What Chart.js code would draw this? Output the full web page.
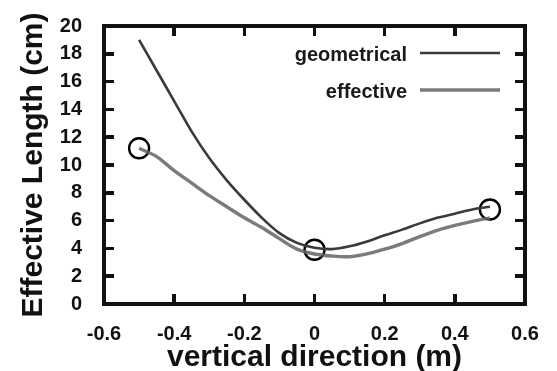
<!DOCTYPE html>
<html>
<head>
<meta charset="utf-8">
<script src="https://cdn.jsdelivr.net/npm/chart.js@4"></script>
<style>
    html, body { margin: 0; padding: 0; background: #fff; }
    #wrap { position: relative; width: 557px; height: 371px; }
    #frame { position: absolute; box-sizing: border-box; border: 4px solid #111; pointer-events: none; }
    .tick { position: absolute; background: #111; }
</style>
</head>
<body>
<div id="wrap"><canvas id="lengthChart"></canvas><div id="frame"></div></div>
<script>
// 数据
const positions = [-0.5, -0.45, -0.4, -0.35, -0.3, -0.25, -0.2, -0.15, -0.1, -0.05, 0, 0.05, 0.1, 0.15, 0.2, 0.25, 0.3, 0.35, 0.4, 0.45, 0.5];
const geometrical = [19.0, 16.8, 14.6, 12.4, 10.5, 8.9, 7.5, 6.2, 5.1, 4.4, 4.05, 3.95, 4.15, 4.5, 4.95, 5.35, 5.8, 6.2, 6.5, 6.8, 7.0];
const effective = [11.2, 10.6, 9.6, 8.7, 7.8, 7.0, 6.2, 5.5, 4.7, 3.95, 3.6, 3.45, 3.4, 3.6, 3.95, 4.35, 4.85, 5.3, 5.65, 5.95, 6.2];
const markerX = [-0.5, 0, 0.5];
const markerY = [11.2, 3.9, 6.8];
const seriesNames = ['geometrical', 'effective'];
const xTicks = [-0.6, -0.4, -0.2, 0, 0.2, 0.4, 0.6];
const yTicks = [0, 2, 4, 6, 8, 10, 12, 14, 16, 18, 20];

const FONT = "'Liberation Sans', Arial, sans-serif";

function toPoints(xs, ys) {
    return xs.map((x, i) => ({ x: x, y: ys[i] }));
}

// 外框和向内刻度（用 DOM 叠加，位置取自图表的坐标轴）
function placeFrame(chart) {
    const xs = chart.scales.x;
    const ys = chart.scales.y;
    const L = xs.getPixelForValue(xTicks[0]);
    const R = xs.getPixelForValue(xTicks[xTicks.length - 1]);
    const T = ys.getPixelForValue(yTicks[yTicks.length - 1]);
    const B = ys.getPixelForValue(yTicks[0]);
    const w = 4, len = 10, tw = 3.5;
    const frame = document.getElementById('frame');
    frame.style.left = (L - w / 2) + 'px';
    frame.style.top = (T - w / 2) + 'px';
    frame.style.width = (R - L + w) + 'px';
    frame.style.height = (B - T + w) + 'px';
    frame.innerHTML = '';
    const addTick = (x, y, wd, ht) => {
        const d = document.createElement('div');
        d.className = 'tick';
        d.style.left = (x - (L - w / 2) - w) + 'px';
        d.style.top = (y - (T - w / 2) - w) + 'px';
        d.style.width = wd + 'px';
        d.style.height = ht + 'px';
        frame.appendChild(d);
    };
    xTicks.slice(1, -1).forEach(v => {
        const px = xs.getPixelForValue(v);
        addTick(px - tw / 2, B - len, tw, len);
        addTick(px - tw / 2, T, tw, len);
    });
    yTicks.slice(1, -1).forEach(v => {
        const py = ys.getPixelForValue(v);
        addTick(L, py - tw / 2, len, tw);
        addTick(R - len, py - tw / 2, len, tw);
    });
    return { L: L, R: R, T: T, B: B };
}

const overlayPlugin = {
    id: 'overlayFrame',
    afterDraw(chart) {
        const box = placeFrame(chart);
        const ctx = chart.ctx;
        ctx.save();
        // 画布上也画一遍外框
        ctx.strokeStyle = '#111';
        ctx.lineWidth = 4;
        ctx.strokeRect(box.L, box.T, box.R - box.L, box.B - box.T);
        // 图例：文字在左，线段在右
        ctx.font = 'bold 20px ' + FONT;
        ctx.textAlign = 'right';
        ctx.textBaseline = 'alphabetic';
        ctx.fillStyle = '#1a1a1a';
        seriesNames.forEach((name, i) => {
            const ds = chart.data.datasets[i];
            const y = box.T + 27 + i * 37;
            ctx.fillText(name, box.R - 118, y + 8);
            ctx.strokeStyle = ds.borderColor;
            ctx.lineWidth = ds.borderWidth;
            ctx.beginPath();
            ctx.moveTo(box.R - 105, y);
            ctx.lineTo(box.R - 25, y);
            ctx.stroke();
        });
        ctx.restore();
    }
};

new Chart(document.getElementById('lengthChart'), {
    type: 'line',
    data: {
        datasets: [{
            label: seriesNames[0],
            data: toPoints(positions, geometrical),
            borderColor: '#3a3a3a',
            borderWidth: 2.6,
            pointRadius: 0,
            tension: 0.3
        }, {
            label: seriesNames[1],
            data: toPoints(positions, effective),
            borderColor: 'rgba(100,100,100,0.85)',
            borderWidth: 3.4,
            pointRadius: 0,
            tension: 0.3
        }, {
            label: 'markers',
            data: toPoints(markerX, markerY),
            showLine: false,
            pointRadius: 10,
            pointBorderWidth: 2.4,
            pointBorderColor: '#000',
            pointBackgroundColor: 'rgba(0,0,0,0)'
        }]
    },
    options: {
        responsive: true,
        maintainAspectRatio: false,
        animation: false,
        layout: { padding: { top: 16, right: 32, left: 0, bottom: 0 } },
        plugins: {
            legend: { display: false },
            tooltip: { enabled: false }
        },
        scales: {
            x: {
                type: 'linear',
                min: xTicks[0],
                max: xTicks[xTicks.length - 1],
                grid: { display: false },
                ticks: {
                    stepSize: 0.2,
                    color: '#111',
                    padding: 10,
                    maxRotation: 0,
                    font: { family: FONT, size: 20, weight: 'bold' }
                },
                title: {
                    display: true,
                    text: 'vertical direction (m)',
                    color: '#111',
                    padding: 0,
                    font: { family: FONT, size: 30, weight: 'bold', lineHeight: 0.9 }
                },
                afterFit(scale) { scale.height = 67; }
            },
            y: {
                min: yTicks[0],
                max: yTicks[yTicks.length - 1],
                grid: { display: false },
                ticks: {
                    stepSize: 2,
                    color: '#111',
                    padding: 14,
                    font: { family: FONT, size: 20, weight: 'bold' }
                },
                title: {
                    display: true,
                    text: 'Effective Length (cm)',
                    color: '#111',
                    padding: { top: 20, bottom: 0 },
                    font: { family: FONT, size: 30, weight: 'bold', lineHeight: 0.9 }
                },
                afterFit(scale) { scale.width = 104; }
            }
        }
    },
    plugins: [overlayPlugin]
});
</script>
</body>
</html>
